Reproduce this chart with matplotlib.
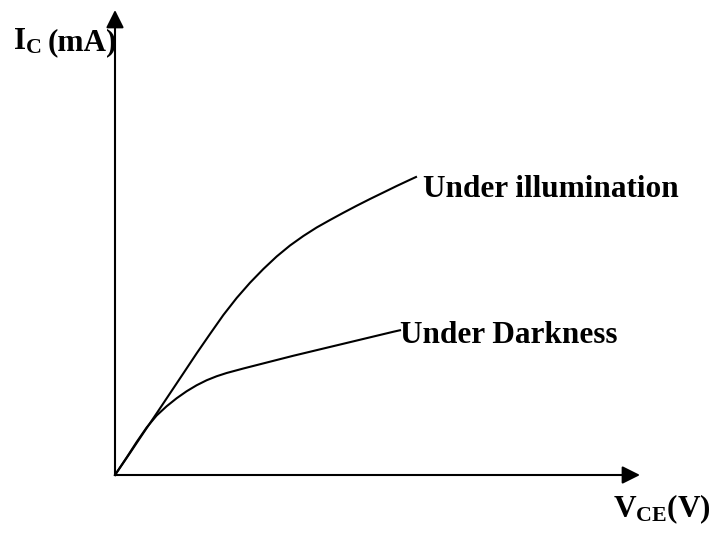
import matplotlib
matplotlib.use("Agg")
from matplotlib import pyplot as plt

plt.rcParams['font.family'] = ['Liberation Serif', 'DejaVu Serif']
plt.rcParams['mathtext.fontset'] = 'custom'
plt.rcParams['mathtext.rm'] = 'Liberation Serif'
plt.rcParams['mathtext.bf'] = 'Liberation Serif:bold'

# curves (V_CE, I_C in arbitrary units)
v_light = [0, 0.30, 0.567, 0.833, 1.10, 1.367, 1.633, 1.90, 2.167, 2.433,
           2.70, 2.967, 3.233, 3.50, 3.767, 4.033, 4.30, 4.567, 4.833, 5.10,
           5.367, 5.633, 5.90, 6.02]
i_light = [0, 0.44, 0.84, 1.233, 1.633, 2.033, 2.433, 2.82, 3.20, 3.54,
           3.845, 4.12, 4.37, 4.59, 4.78, 4.95, 5.10, 5.245, 5.385, 5.52,
           5.65, 5.78, 5.905, 5.96]
v_dark = [0, 0.233, 0.433, 0.633, 0.833, 1.033, 1.233, 1.433, 1.633, 1.833,
          2.033, 2.233, 2.567, 2.90, 3.233, 3.567, 3.90, 4.233, 4.567, 4.90,
          5.233, 5.567, 5.70]
i_dark = [0, 0.35, 0.66, 0.95, 1.19, 1.375, 1.535, 1.675, 1.795, 1.895,
          1.975, 2.04, 2.13, 2.215, 2.30, 2.385, 2.465, 2.545, 2.625, 2.705,
          2.785, 2.865, 2.895]
labels = ["Under illumination", "Under Darkness"]

fig = plt.figure(figsize=(7.13, 5.38), dpi=100)
ax = fig.add_axes([0, 0, 1, 1])
ax.set_xlim(-2.3, 11.96)
ax.set_ylim(-1.26, 9.5)
ax.axis('off')

# axes with arrows
arr = dict(arrowstyle='-|>', mutation_scale=27, lw=1.5, color='black',
           shrinkA=0, shrinkB=0)
ax.annotate('', xy=(10.5, 0), xytext=(0, 0), arrowprops=arr)
ax.annotate('', xy=(0, 9.3), xytext=(0, 0), arrowprops=arr)

ax.plot(v_light, i_light, color='black', lw=1.5, solid_joinstyle='round')
ax.plot(v_dark, i_dark, color='black', lw=1.5, solid_joinstyle='round')

fs = 22.5
ax.text(v_light[-1] + 0.14, i_light[-1] - 0.40, labels[0], fontsize=fs,
        fontweight='bold', va='baseline', ha='left')
ax.text(v_dark[-1], i_dark[-1] - 0.26, labels[1], fontsize=fs,
        fontweight='bold', va='baseline', ha='left')
ax.text(-2.04, 8.5, r'$\mathbf{I_C}$', fontsize=fs, va='baseline', ha='left')
ax.text(-1.34, 8.5, '(mA)', fontsize=fs, fontweight='bold', va='baseline', ha='left')
ax.text(9.96, -0.84, r'$\mathbf{V_{CE}(V)}$', fontsize=fs, va='baseline', ha='left')

fig.savefig('out.png', dpi=100)
